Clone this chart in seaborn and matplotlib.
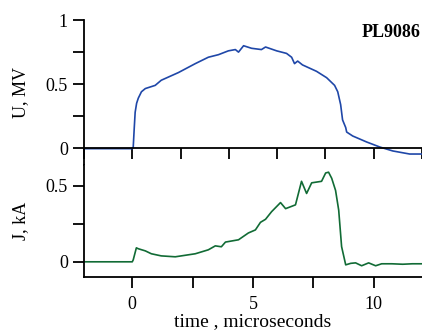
import matplotlib
matplotlib.use("Agg")
import matplotlib.pyplot as plt
import seaborn as sns
import pandas as pd
from matplotlib.ticker import MultipleLocator

# Voltage U (MV) vs time (microseconds)
u_time = [-2.0, 0.0, 0.04, 0.08, 0.12, 0.18, 0.25, 0.38, 0.54, 0.95, 1.20, 1.91, 2.61, 3.15, 3.57,
          3.98, 4.27, 4.40, 4.61, 4.94, 5.35, 5.52, 5.98, 6.39, 6.60, 6.72, 6.85,
          7.05, 7.63, 8.05, 8.38, 8.51, 8.63, 8.71, 8.84, 8.88, 9.13, 9.71, 10.25,
          10.79, 11.49, 12.0]
u_val = [-0.005, -0.005, 0.008, 0.15, 0.28, 0.35, 0.39, 0.44, 0.465, 0.49, 0.53, 0.59, 0.66, 0.71, 0.73,
         0.76, 0.77, 0.75, 0.80, 0.78, 0.77, 0.79, 0.76, 0.74, 0.71, 0.66, 0.68,
         0.65, 0.60, 0.55, 0.49, 0.44, 0.34, 0.22, 0.16, 0.125, 0.094, 0.047, 0.008,
         -0.023, -0.047, -0.047]

# Current J (kA) vs time (microseconds)
j_time = [-2.0, 0.0, 0.04, 0.17, 0.25, 0.54, 0.79, 1.20, 1.78, 2.61, 3.15, 3.44,
          3.69, 3.86, 4.40, 4.81, 5.10, 5.31, 5.52, 5.77, 6.14, 6.35, 6.76, 7.01,
          7.22, 7.43, 7.84, 8.01, 8.13, 8.26, 8.42, 8.55, 8.67, 8.84, 9.05, 9.25,
          9.50, 9.79, 10.08, 10.33, 10.75, 11.2, 11.6, 12.0]
j_val = [0.0, 0.0, 0.013, 0.092, 0.086, 0.072, 0.053, 0.039, 0.033, 0.053, 0.079, 0.105,
         0.099, 0.13, 0.145, 0.19, 0.21, 0.26, 0.28, 0.33, 0.39, 0.35, 0.375, 0.53,
         0.45, 0.52, 0.53, 0.585, 0.59, 0.55, 0.47, 0.34, 0.10, -0.02, -0.010, -0.007,
         -0.026, -0.007, -0.026, -0.013, -0.013, -0.016, -0.013, -0.013]

u_df = pd.DataFrame({"t": u_time, "U": u_val})
j_df = pd.DataFrame({"t": j_time, "J": j_val})

sns.set_style("ticks")
plt.rcParams['font.family'] = ['Liberation Serif', 'DejaVu Serif']
plt.rcParams['text.color'] = 'black'
plt.rcParams['axes.labelcolor'] = 'black'
plt.rcParams['xtick.color'] = 'black'
plt.rcParams['ytick.color'] = 'black'

fig = plt.figure(figsize=(4.22, 3.36), dpi=100)
ax1 = fig.add_axes([0.199, 0.510, 0.801, 0.430])
ax2 = fig.add_axes([0.199, 0.1756, 0.801, 0.3345])

sns.lineplot(data=u_df, x="t", y="U", ax=ax1, color="#1f47a8", linewidth=1.2)
sns.lineplot(data=j_df, x="t", y="J", ax=ax2, color="#116b35", linewidth=1.2)

for ax in (ax1, ax2):
    ax.set_xlim(-2, 12)
    for s in ("top", "right"):
        ax.spines[s].set_visible(False)
    for s in ("left", "bottom"):
        ax.spines[s].set_linewidth(1.3)
        ax.spines[s].set_color("black")
    ax.tick_params(which="both", direction="out", length=8, width=1.3,
                   colors="black", labelcolor="black", labelsize=13)

ax1.set_ylim(-0.13, 1.0)
ax1.spines["bottom"].set_position(("data", 0))
ax1.xaxis.set_major_locator(MultipleLocator(2))
ax1.tick_params(axis="x", labelbottom=False)
ax1.yaxis.set_minor_locator(MultipleLocator(0.25))
ax1.set_yticks([0, 0.5, 1])
ax1.set_yticklabels(["0", "0.5", "1"])
ax1.set_xlabel("")
ax1.set_ylabel("U, MV", fontsize=13, labelpad=12, color="black")
ax1.text(0.995, 0.97, "PL9086", transform=ax1.transAxes, ha="right", va="top",
         fontsize=13, fontweight="bold", color="black")

ax2.set_ylim(-0.1, 0.64)
ax2.xaxis.set_minor_locator(MultipleLocator(2.5))
ax2.set_xticks([0, 5, 10])
ax2.set_xticklabels(["0", "5", "10"])
ax2.yaxis.set_minor_locator(MultipleLocator(0.25))
ax2.set_yticks([0, 0.5])
ax2.set_yticklabels(["0", "0.5"])
ax2.tick_params(axis="x", which="both", length=8, pad=6)
ax2.set_ylabel("J, kA", fontsize=13, labelpad=12, color="black")
ax2.set_xlabel("time , microseconds", fontsize=14, labelpad=0, color="black")

fig.savefig("out.png", dpi=100)
